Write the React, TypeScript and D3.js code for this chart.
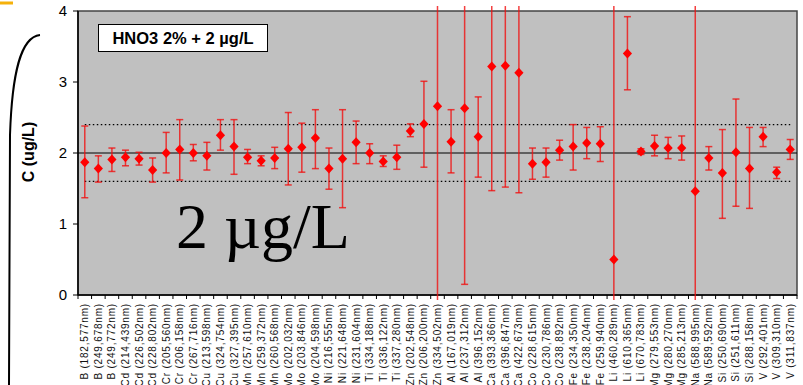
import React from "react";
import * as d3 from "d3";

const labels = [
  "B (182,577nm)", "B (249,678nm)", "B (249,772nm)",
  "Cd (214,439nm)", "Cd (226,502nm)", "Cd (228,802nm)",
  "Cr (205,560nm)", "Cr (206,158nm)", "Cr (267,716nm)",
  "Cu (213,598nm)", "Cu (324,754nm)", "Cu (327,395nm)",
  "Mn (257,610nm)", "Mn (259,372nm)", "Mn (260,568nm)",
  "Mo (202,032nm)", "Mo (203,846nm)", "Mo (204,598nm)",
  "Ni (216,555nm)", "Ni (221,648nm)", "Ni (231,604nm)",
  "Ti (334,188nm)", "Ti (336,122nm)", "Ti (337,280nm)",
  "Zn (202,548nm)", "Zn (206,200nm)", "Zn (334,502nm)",
  "Al (167,019nm)", "Al (237,312nm)", "Al (396,152nm)",
  "Ca (393,366nm)", "Ca (396,847nm)", "Ca (422,673nm)",
  "Co (228,615nm)", "Co (230,786nm)", "Co (238,892nm)",
  "Fe (234,350nm)", "Fe (238,204nm)", "Fe (259,940nm)",
  "Li (460,289nm)", "Li (610,365nm)", "Li (670,783nm)",
  "Mg (279,553nm)", "Mg (280,270nm)", "Mg (285,213nm)",
  "Na (588,995nm)", "Na (589,592nm)",
  "Si (250,690nm)", "Si (251,611nm)", "Si (288,158nm)",
  "V (292,401nm)", "V (309,310nm)", "V (311,837nm)",
];

const values = [
  1.87, 1.78, 1.91, 1.94, 1.92, 1.76, 2.0, 2.05, 2.0, 1.96,
  2.25, 2.09, 1.94, 1.89, 1.93, 2.06, 2.08, 2.21, 1.78, 1.92,
  2.15, 2.0, 1.88, 1.94, 2.31, 2.41, 2.66, 2.16, 2.63, 2.23,
  3.22, 3.23, 3.13, 1.85, 1.87, 2.04, 2.09, 2.14, 2.13, 0.5,
  3.4, 2.02, 2.1, 2.07, 2.07, 1.46, 1.93, 1.72, 2.01, 1.78,
  2.23, 1.73, 2.05,
];

const upper = [
  2.38, 1.96, 2.07, 2.04, 2.01, 1.93, 2.29, 2.47, 2.12, 2.15,
  2.47, 2.47, 2.05, 1.96, 2.08, 2.57, 2.42, 2.61, 2.07, 2.61,
  2.45, 2.13, 1.96, 2.11, 2.41, 3.01, 4.07, 2.61, 4.07, 2.79,
  4.07, 4.07, 4.07, 2.07, 2.07, 2.18, 2.4, 2.36, 2.37, 4.07,
  3.92, 2.06, 2.25, 2.22, 2.24, 4.07, 2.09, 2.33, 2.76, 2.36,
  2.36, 1.8, 2.19,
];

const lower = [
  1.37, 1.59, 1.74, 1.82, 1.83, 1.59, 1.72, 1.62, 1.89, 1.76,
  2.04, 1.7, 1.85, 1.82, 1.78, 1.55, 1.73, 1.78, 1.49, 1.23,
  1.85, 1.85, 1.81, 1.77, 2.23, 1.8, -0.07, 1.72, 0.15, 1.66,
  1.47, 1.52, 1.44, 1.63, 1.66, 1.9, 1.76, 1.92, 1.88, -0.07,
  2.89, 1.98, 1.96, 1.92, 1.9, -0.07, 1.76, 1.08, 1.25, 1.22,
  2.09, 1.64, 1.91,
];

const yTicks = [0, 1, 2, 3, 4];
const target = 2;
const limits = [2.4, 1.6];
const title = "HNO3 2% + 2 µg/L";
const bigLabel = "2 µg/L";
const yLabel = "C (ug/L)";

export default function App() {
  const W = 803, H = 385;
  const left = 78, right = 797, top = 11, bottom = 295;
  const x = d3.scaleBand<string>().domain(labels).range([left, right]).padding(0);
  const y = d3.scaleLinear().domain([0, 4]).range([bottom, top]);
  const cx = (i: number) => (x(labels[i]) as number) + x.bandwidth() / 2;
  const dw = 4.6, dh = 5;
  const diamond = `M0,${-dh}L${dw},0L0,${dh}L${-dw},0Z`;
  const arial = "Arial, 'Liberation Sans', sans-serif";
  const capW = 3.5;

  return (
    <svg width={W} height={H} style={{ position: "absolute", left: 0, top: 0 }} fontFamily={arial}>
      <rect x={0} y={0} width={W} height={H} fill="#ffffff" />
      <line x1={0} x2={13} y1={3} y2={3} stroke="#f5b10a" strokeWidth={3} />
      <path d="M40,35 C20,37 12,75 10,135 L9,385" fill="none" stroke="#000" strokeWidth={2} />
      <rect x={left} y={top} width={right - left} height={bottom - top} fill="#c0c0c0" stroke="#444" strokeWidth={1.5} />
      <line x1={left} x2={left} y1={top} y2={bottom} stroke="#000" strokeWidth={1.5} />
      <line x1={left} x2={right} y1={bottom} y2={bottom} stroke="#000" strokeWidth={1.5} />
      {yTicks.map((t) => (
        <g key={t}>
          <line x1={left - 5} x2={left} y1={y(t)} y2={y(t)} stroke="#000" />
          <text x={67} y={y(t)} dy="0.36em" textAnchor="end" fontSize={15} fill="#000">{t}</text>
        </g>
      ))}
      {labels.map((l, i) => (
        <line key={"xt" + i} x1={(x(l) as number)} x2={(x(l) as number)} y1={bottom} y2={bottom + 4} stroke="#000" />
      ))}
      <line x1={right} x2={right} y1={bottom} y2={bottom + 4} stroke="#000" />
      <line x1={left} x2={right} y1={y(target)} y2={y(target)} stroke="#000" strokeWidth={1.2} />
      {limits.map((v) => (
        <line key={v} x1={cx(0)} x2={cx(labels.length - 1)} y1={y(v)} y2={y(v)} stroke="#000" strokeWidth={1.2} strokeDasharray="1.5,2.5" />
      ))}
      <rect x={98.5} y={24.5} width={169} height={27} fill="#fff" stroke="#000" strokeWidth={1} />
      <text x={183} y={38.5} dy="0.36em" textAnchor="middle" fontSize={16.5} fontWeight="bold" fill="#000">{title}</text>
      <text x={176} y={248} fontFamily="'Liberation Serif', 'Times New Roman', serif" fontSize={64} fill="#000">{bigLabel}</text>
      {values.map((v, i) => {
        const X = cx(i);
        const hi = upper[i], lo = lower[i];
        return (
          <g key={"e" + i} stroke="#f01010" strokeOpacity={0.8} strokeWidth={1.5}>
            <line x1={X} x2={X} y1={y(hi)} y2={y(lo)} />
            {hi < 4 && <line x1={X - capW} x2={X + capW} y1={y(hi)} y2={y(hi)} />}
            {lo > 0 && <line x1={X - capW} x2={X + capW} y1={y(lo)} y2={y(lo)} />}
          </g>
        );
      })}
      {values.map((v, i) => (
        <path key={"p" + i} d={diamond} transform={`translate(${cx(i)},${y(v)})`} fill="#ff0000" />
      ))}
      {labels.map((l, i) => (
        <text key={"xl" + i} transform={`translate(${cx(i)},303) rotate(-90)`} dy="0.35em" textAnchor="end" fontSize={10} letterSpacing={0.8} fill="#111">{l}</text>
      ))}
      <text transform="translate(28,152) rotate(-90)" dy="0.35em" textAnchor="middle" fontSize={16} fontWeight="bold" fill="#000">{yLabel}</text>
    </svg>
  );
}
